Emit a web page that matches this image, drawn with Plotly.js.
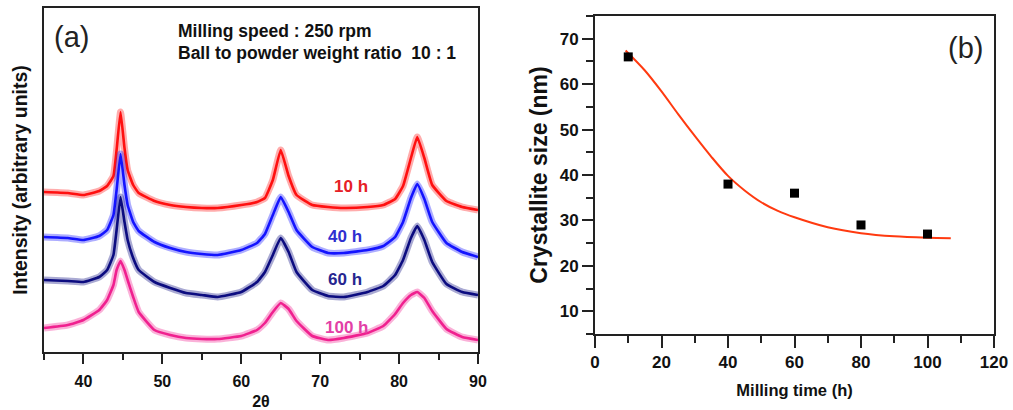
<!DOCTYPE html>
<html>
<head>
<meta charset="utf-8">
<script src="https://cdn.plot.ly/plotly-3.0.1.min.js"></script>
<style>html,body{margin:0;padding:0;background:#fff;}#chart{width:1013px;height:410px;}</style>
</head>
<body>
<div id="chart"></div>
<script>
// ---- Panel (a): XRD patterns (2theta, arbitrary intensity with vertical offsets) ----
const twoTheta = [35, 38, 40, 42, 43, 43.8, 44.2, 44.7, 45.2, 45.6, 46.3, 47, 49, 51, 53, 55, 57, 60, 62, 63, 64, 65, 66, 67, 69, 71, 73, 76, 78, 79.5, 80.5, 81.5, 82.3, 83.2, 84.2, 86, 88, 90];
const int10h  = [160,159,157,161,166,176,202,240,204,182,167,159,151,147,145,144,144,147,150,154,172,202,176,157,147,145,144,145,147,153,166,194,215,194,167,151,145,142];
const int40h  = [115,114,112,116,122,137,162,198,167,147,130,121,110,104,100,98,97,102,109,118,137,155,140,122,105,99,99,102,106,115,130,154,168,153,130,109,100,95];
const int60h  = [72,71,70,75,82,97,122,155,130,112,94,82,70,64,59,57,55,60,70,80,97,114,100,80,62,56,55,60,66,77,92,114,126,112,90,68,60,57];
const int100h = [24,27,32,42,52,67,82,91,82,72,55,40,22,17,14,13,13,16,22,29,40,49,43,31,16,12,14,19,26,38,49,57,60,54,41,23,15,12];
const seriesNames = ["10 h", "40 h", "60 h", "100 h"];

// ---- Panel (b): crystallite size vs milling time ----
const millingTime = [10, 40, 60, 80, 100];
const crystalliteSize = [66, 38, 36, 29, 27];
const fitTime = [9.2, 15, 20, 25, 30, 35, 40, 45, 50, 55, 60, 70, 80, 90, 100, 107];
const fitSize = [67.4, 63.0, 58.4, 53.4, 48.6, 44.0, 39.8, 36.6, 34.0, 32.1, 30.7, 28.5, 27.2, 26.5, 26.2, 26.1];

const W = 1013, H = 410;
const px = v => v / W;
const py = v => 1 - v / H;
const FAM = "Liberation Sans, Arial, sans-serif";

const lineCols  = ["#ff1010", "#1414ff", "#0c0c80", "#f0208f"];
const labelCols = ["#e62026", "#2f2fd0", "#262690", "#e23fa6"];
const xrd = [int10h, int40h, int60h, int100h];

const traces = [];
xrd.forEach((ys, i) => {
  // soft halo standing in for the noisy scatter band of the measured pattern
  traces.push({
    x: twoTheta, y: ys, type: "scatter", mode: "lines", name: seriesNames[i] + " band",
    line: {color: lineCols[i], width: 7, shape: "spline", smoothing: 0.35},
    opacity: 0.35, xaxis: "x", yaxis: "y", showlegend: false, hoverinfo: "skip"
  });
  traces.push({
    x: twoTheta, y: ys, type: "scatter", mode: "lines", name: seriesNames[i],
    line: {color: lineCols[i], width: 2.6, shape: "spline", smoothing: 0.35},
    xaxis: "x", yaxis: "y", showlegend: false
  });
});
traces.push({
  x: fitTime, y: fitSize, type: "scatter", mode: "lines", name: "fit",
  line: {color: "#ff3a10", width: 2, shape: "spline", smoothing: 0.8},
  xaxis: "x2", yaxis: "y2", showlegend: false
});
traces.push({
  x: millingTime, y: crystalliteSize, type: "scatter", mode: "markers", name: "size",
  marker: {symbol: "square", size: 9, color: "#000"},
  xaxis: "x2", yaxis: "y2", showlegend: false
});

const labelPos = [[351, 187], [345, 237], [345, 279], [346, 327]];
const annotations = seriesNames.map((t, i) => ({
  text: "<b>" + t + "</b>", xref: "paper", yref: "paper",
  x: px(labelPos[i][0]), y: py(labelPos[i][1]), xanchor: "center", yanchor: "middle",
  showarrow: false, font: {family: FAM, size: 17, color: labelCols[i]}
}));
annotations.push(
  {text: "(a)", xref: "paper", yref: "paper", x: px(71), y: py(37), xanchor: "center", yanchor: "middle",
   showarrow: false, font: {family: FAM, size: 29, color: "#222"}},
  {text: "<b>Milling speed : 250 rpm</b>", xref: "paper", yref: "paper", x: px(176), y: py(31), xanchor: "left", yanchor: "middle",
   showarrow: false, font: {family: FAM, size: 17.5, color: "#111"}},
  {text: "<b>Ball to powder weight ratio  10 : 1</b>", xref: "paper", yref: "paper", x: px(176), y: py(53), xanchor: "left", yanchor: "middle",
   showarrow: false, font: {family: FAM, size: 17.5, color: "#111"}},
  {text: "(b)", xref: "paper", yref: "paper", x: px(965), y: py(48), xanchor: "center", yanchor: "middle",
   showarrow: false, font: {family: FAM, size: 29, color: "#222"}}
);

const axLine = {showline: true, linewidth: 2, linecolor: "#222", mirror: true, showgrid: false, zeroline: false};

const layout = {
  width: W, height: H, margin: {l: 0, r: 0, t: 0, b: 0},
  paper_bgcolor: "#fff", plot_bgcolor: "#fff", showlegend: false,
  xaxis: Object.assign({
    domain: [px(44), px(478)], range: [35, 90], tick0: 40, dtick: 10,
    ticks: "outside", ticklen: 10, tickwidth: 2, tickcolor: "#222", ticklabelstandoff: 4,
    minor: {dtick: 5, tick0: 35, ticks: "outside", ticklen: 6, tickwidth: 2, tickcolor: "#222"},
    tickfont: {family: FAM, size: 16, color: "#111", weight: "bold"}, anchor: "y",
    title: {text: "2θ", font: {family: FAM, size: 16, color: "#111", weight: "bold"}, standoff: 8}
  }, axLine),
  yaxis: Object.assign({
    domain: [py(352), py(8)], range: [0, 344], showticklabels: false, ticks: "",
    anchor: "x",
    title: {text: "Intensity (arbitrary units)", font: {family: FAM, size: 19.5, color: "#111", weight: "bold"}, standoff: 9}
  }, axLine),
  xaxis2: Object.assign({
    domain: [px(595), px(994)], range: [0, 120], tick0: 0, dtick: 20,
    ticks: "outside", ticklen: 12, tickwidth: 2, tickcolor: "#222",
    minor: {dtick: 10, ticks: "outside", ticklen: 7, tickwidth: 2, tickcolor: "#222"},
    tickfont: {family: FAM, size: 17, color: "#111", weight: "bold"}, anchor: "y2",
    title: {text: "Milling time (h)", font: {family: FAM, size: 16.5, color: "#111", weight: "bold"}, standoff: 13}
  }, axLine),
  yaxis2: Object.assign({
    domain: [py(334), py(16)], range: [5, 75], tickvals: [10, 20, 30, 40, 50, 60, 70],
    ticks: "outside", ticklen: 11, tickwidth: 2, tickcolor: "#222",
    minor: {dtick: 5, tick0: 5, ticks: "outside", ticklen: 7, tickwidth: 2, tickcolor: "#222"},
    tickfont: {family: FAM, size: 17, color: "#111", weight: "bold"}, anchor: "x2",
    title: {text: "Crystallite size (nm)", font: {family: FAM, size: 23, color: "#111", weight: "bold"}, standoff: 6}
  }, axLine),
  annotations: annotations
};

Plotly.newPlot("chart", traces, layout, {displayModeBar: false, staticPlot: true});
</script>
</body>
</html>
